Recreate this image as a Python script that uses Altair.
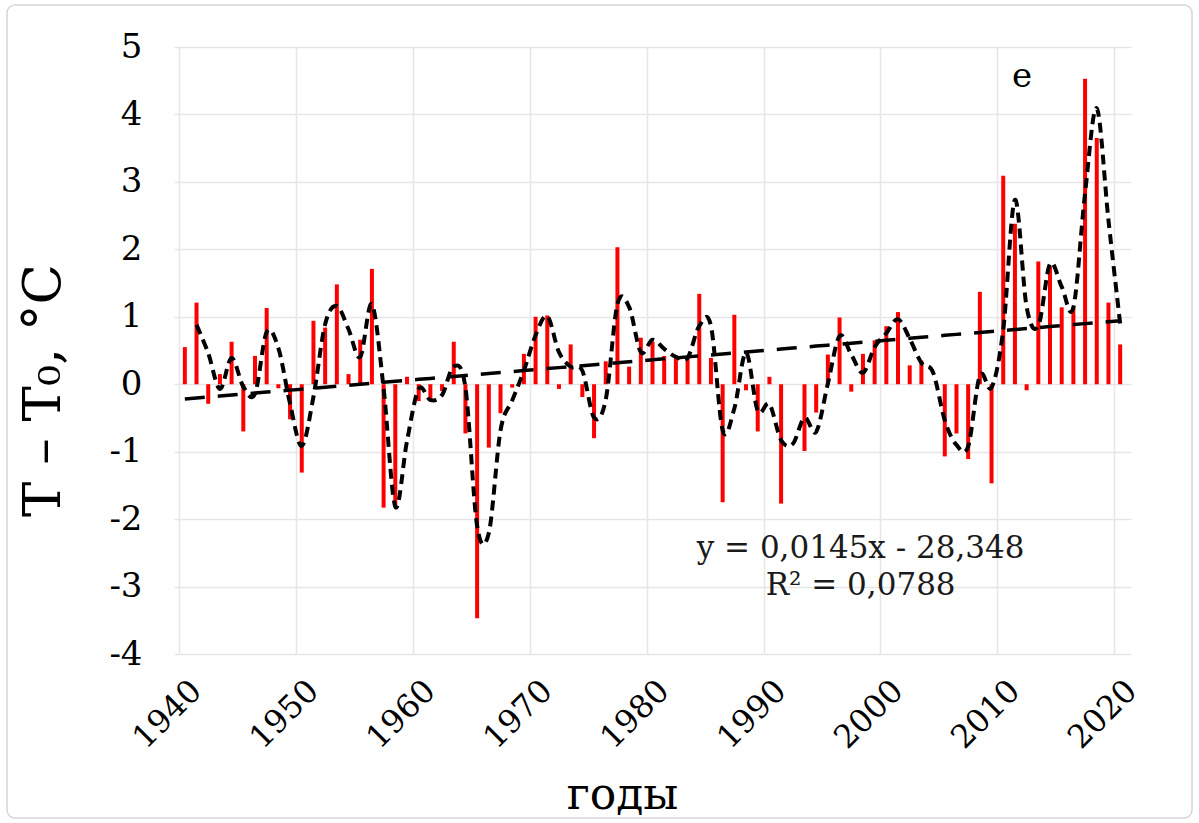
import altair as alt
import pandas as pd

# Annual temperature anomaly (T - T0, °C), 1940-2020
years = list(range(1940, 2021))
anomaly = [
    0.55, 1.21, -0.29, 0.15, 0.63, -0.70, 0.42, 1.13, -0.06, -0.52,   # 1940s
    -1.31, 0.94, 0.84, 1.48, 0.15, 0.66, 1.71, -1.83, -1.80, 0.11,    # 1950s
    -0.25, -0.22, -0.10, 0.63, -0.73, -3.47, -0.94, -0.43, -0.05, 0.45,  # 1960s
    1.00, 1.02, -0.07, 0.59, -0.19, -0.80, 0.34, 2.03, 0.26, 0.69,    # 1970s
    0.63, 0.42, 0.39, 0.39, 1.34, 0.39, -1.75, 1.03, -0.09, -0.70,    # 1980s
    0.11, -1.77, 0.00, -0.99, -0.42, 0.44, 0.99, -0.11, 0.45, 0.65,   # 1990s
    0.86, 1.07, 0.28, 0.35, 0.00, -1.07, -0.73, -1.11, 1.37, -1.47,   # 2000s
    3.09, 2.38, -0.09, 1.82, 1.75, 1.14, 1.14, 4.53, 3.65, 1.21,      # 2010s
    0.59,                                                             # 2020
]

# Linear trend as stated in the annotation
trend_slope = 0.0145
trend_intercept = -28.348
equation_lines = ["y = 0,0145x - 28,348", "R² = 0,0788"]
panel_letter = "e"

x_ticks = list(range(1940, 2021, 10))
y_ticks = list(range(-4, 6))

df = pd.DataFrame({"year": years, "dT": anomaly})

FONT = "DejaVu Serif"
GRID = "#e6e6e6"

x_scale = alt.Scale(domain=[1940, 2021], nice=False, zero=False)
y_scale = alt.Scale(domain=[-4, 5], nice=False, zero=False)

x_axis = alt.Axis(
    values=x_ticks, format="d", title="годы",
    labelAngle=-45, labelAlign="center", labelBaseline="middle",
    labelFont=FONT, labelFontSize=32, labelColor="#000000",
    labelPadding=60, labelOffset=-12,
    titleFont=FONT, titleFontSize=44, titleFontWeight="normal", titleColor="#000000",
    titlePadding=19, titleX=448,
    grid=True, gridColor=GRID, gridWidth=1.5, domain=False, ticks=False,
)
y_axis = alt.Axis(
    values=y_ticks, format="d", title="T – T₀, °C",
    labelExpr="replace(datum.label, '\u2212', '-')",
    labelFont=FONT, labelFontSize=34, labelColor="#000000", labelPadding=32,
    titleFont=FONT, titleFontSize=53, titleFontWeight="normal", titleColor="#000000",
    titleX=-104, titleY=343,
    grid=True, gridColor=GRID, gridWidth=1.5, domain=False, ticks=False,
)

base = alt.Chart(df).transform_calculate(pos="datum.year + 0.5")

bars = base.mark_bar(color="#ff0000", size=4).encode(
    x=alt.X("pos:Q", scale=x_scale, axis=x_axis),
    y=alt.Y("dT:Q", scale=y_scale, axis=y_axis),
)

# Straight trend line from the fitted equation
trend = base.transform_calculate(
    trend=f"{trend_slope} * datum.year + ({trend_intercept})"
).mark_line(color="#000000", strokeWidth=3.5, strokeDash=[20, 13]).encode(
    x=alt.X("pos:Q", scale=x_scale),
    y=alt.Y("trend:Q", scale=y_scale),
)

# Two-year moving average, smoothed
moving = base.transform_window(
    ma="mean(dT)", frame=[-1, 0], sort=[alt.SortField("year")]
).transform_filter("datum.year > 1940").mark_line(
    color="#000000", strokeWidth=4, strokeDash=[10, 6], interpolate="cardinal"
).encode(
    x=alt.X("pos:Q", scale=x_scale),
    y=alt.Y("ma:Q", scale=y_scale),
)

equation = alt.Chart(pd.DataFrame({"k": [0]})).mark_text(
    font=FONT, fontSize=31, color="#1a1a1a", align="center", baseline="middle",
    lineHeight=37,
).encode(
    x=alt.datum(1998.3, scale=x_scale),
    y=alt.datum(-2.44, scale=y_scale),
    text=alt.value(equation_lines),
)

letter = alt.Chart(pd.DataFrame({"k": [0]})).mark_text(
    font=FONT, fontSize=34, color="#000000", align="center", baseline="middle",
).encode(
    x=alt.datum(2012.1, scale=x_scale),
    y=alt.datum(4.55, scale=y_scale),
    text=alt.value(panel_letter),
)

frame = alt.Chart(pd.DataFrame({"k": [0]})).mark_rect(
    filled=False, stroke="#d6d6d6", strokeWidth=1.5, cornerRadius=8,
).encode(
    x=alt.value(-167), x2=alt.value(1018), y=alt.value(-42), y2=alt.value(771),
)

chart = alt.layer(bars, trend, moving, equation, letter, frame).properties(
    width=957, height=607,
    autosize="none",
    padding={"left": 174, "top": 47, "right": 68, "bottom": 169},
    background="#ffffff",
).configure_view(stroke=None)

chart.save("out.html", embed_options={"renderer": "svg", "actions": False})
